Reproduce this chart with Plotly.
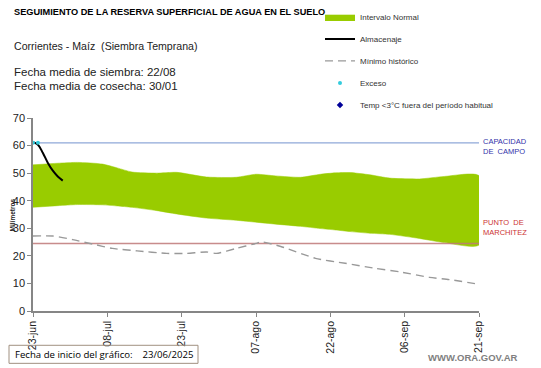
import plotly.graph_objects as go

# ---------------- data ----------------
band_days = [0, 5, 9, 14, 17, 20, 25, 29, 35, 41, 45, 49, 54, 58, 61, 64, 68, 72, 78, 83, 90]
band_upper = [53.0, 53.6, 53.9, 53.3, 51.9, 50.4, 50.0, 50.3, 48.6, 48.5, 49.6, 49.0, 48.5, 49.6, 50.1, 50.2, 49.4, 48.2, 47.9, 48.8, 49.1]
band_lower = [37.6, 38.2, 38.6, 38.5, 38.1, 37.6, 36.4, 35.2, 33.7, 32.9, 32.2, 31.5, 30.7, 29.9, 29.4, 28.8, 28.2, 27.8, 26.3, 24.8, 23.9]

min_days = [0, 4, 8, 12, 16, 21, 27, 31, 35, 37, 41, 45, 46, 50, 57, 63, 69, 74, 80, 84, 90]
min_hist = [27.2, 27.2, 25.9, 24.3, 22.7, 21.8, 20.9, 20.9, 21.4, 20.9, 22.7, 24.5, 25.1, 23.4, 19.1, 17.3, 15.5, 14.2, 12.2, 11.4, 9.7]

store_days = [0, 1, 2, 3, 4, 5, 6]
storage = [61.2, 60.3, 57.3, 53.7, 50.9, 48.8, 47.3]

exceso_days = [0, 1]
exceso_vals = [61.0, 61.0]

capacidad_campo = 61.0
punto_marchitez = 24.5
x_start, x_end = 0, 90

tick_days = [0, 15, 30, 45, 60, 75, 90]
tick_labels = ["23-jun", "08-jul", "23-jul", "07-ago", "22-ago", "06-sep", "21-sep"]
y_ticks = [0, 10, 20, 30, 40, 50, 60, 70]

# ---------------- layout helpers (window pixel -> paper) ----------------
OFF = 8                      # page body margin
W, H = 541, 368
PL, PT, PW, PH = 33 - OFF, 118.3 - OFF, 446, 192.5   # plot area inside figure
R = W - PL - PW
B = H - PT - PH
def px(x):
    return (x - OFF - PL) / PW
def py(y):
    return (PT + PH - (y - OFF)) / PH

FONT = "Liberation Sans, Arial, sans-serif"
GREEN = "#99CC00"

fig = go.Figure()

# Normal interval band
fig.add_trace(go.Scatter(
    x=band_days + band_days[::-1], y=band_upper + band_lower[::-1],
    fill="toself", fillcolor=GREEN, line=dict(color=GREEN, width=0.5, shape="spline", smoothing=0.6),
    mode="lines", name="Intervalo Normal", legendrank=1, legendgroup="a", hoverinfo="skip"))

# reference lines
fig.add_trace(go.Scatter(x=[x_start, x_end], y=[capacidad_campo, capacidad_campo], mode="lines",
                         line=dict(color="#8FA8D8", width=1.3), showlegend=False, hoverinfo="skip"))
fig.add_trace(go.Scatter(x=[x_start, x_end], y=[punto_marchitez, punto_marchitez], mode="lines",
                         line=dict(color="rgba(190,120,120,0.85)", width=1.5), showlegend=False, hoverinfo="skip"))

# Minimum historic
fig.add_trace(go.Scatter(x=min_days, y=min_hist, mode="lines", name="Mínimo histórico",
                         line=dict(color="#999999", width=1.4, dash="8px,5px", shape="spline", smoothing=0.6),
                         legendrank=3, legendgroup="c"))

# Storage
fig.add_trace(go.Scatter(x=store_days, y=storage, mode="lines", name="Almacenaje",
                         line=dict(color="black", width=2, shape="spline"), legendrank=2, legendgroup="b"))

# Exceso
fig.add_trace(go.Scatter(x=exceso_days, y=exceso_vals, mode="markers", name="Exceso",
                         marker=dict(color="#33CCDD", size=4), legendrank=4, legendgroup="d"))

# Temp (no data)
fig.add_trace(go.Scatter(x=[None], y=[None], mode="markers", name="Temp <3°C fuera del período habitual",
                         marker=dict(color="#000099", size=5, symbol="diamond"), legendrank=5, legendgroup="e"))

annotations = [
    dict(text="<b>SEGUIMIENTO DE LA RESERVA SUPERFICIAL DE AGUA EN EL SUELO</b>", x=px(12), y=py(13),
         xanchor="left", yanchor="middle", font=dict(size=9.2, color="black")),
    dict(text="Corrientes - Maíz  (Siembra Temprana)", x=px(12), y=py(46),
         xanchor="left", yanchor="middle", font=dict(size=10.6, color="#222222")),
    dict(text="Fecha media de siembra: 22/08", x=px(12), y=py(72),
         xanchor="left", yanchor="middle", font=dict(size=11.5, color="#222222")),
    dict(text="Fecha media de cosecha: 30/01", x=px(12), y=py(86),
         xanchor="left", yanchor="middle", font=dict(size=11.5, color="#222222")),
    dict(text="CAPACIDAD<br>DE  CAMPO", x=px(481), y=py(147), xanchor="left", yanchor="middle",
         align="left", font=dict(size=7.5, color="#3333AA")),
    dict(text="PUNTO  DE<br>MARCHITEZ", x=px(481), y=py(228), xanchor="left", yanchor="middle",
         align="left", font=dict(size=7.5, color="#CC3333")),
    dict(text="<b>Milímetros</b>", x=px(8), y=py(215), textangle=-90, xanchor="left", yanchor="middle",
         font=dict(size=6.5, color="#222222"), borderpad=0),
    dict(text="Fecha de inicio del gráfico:&nbsp;&nbsp;&nbsp;&nbsp;23/06/2025", x=px(104), y=py(354),
         xanchor="center", yanchor="middle", font=dict(size=9.6, color="black", family="Open Sans, sans-serif")),
    dict(text="<b>WWW.ORA.GOV.AR</b>", x=px(473), y=py(357), xanchor="center", yanchor="middle",
         font=dict(size=9.5, color="#808080")),
]
for a in annotations:
    a.update(xref="paper", yref="paper", showarrow=False)

shapes = [dict(type="rect", xref="paper", yref="paper", x0=px(9), x1=px(198), y0=py(345), y1=py(363),
               line=dict(color="#A09080", width=1), fillcolor="rgba(0,0,0,0)")]

fig.update_layout(
    width=W, height=H, margin=dict(l=PL, r=R, t=PT, b=B, autoexpand=False),
    paper_bgcolor="white", plot_bgcolor="white",
    font=dict(family=FONT, color="#222222"),
    annotations=annotations, shapes=shapes,
    showlegend=True,
    legend=dict(x=px(320), y=py(3), xanchor="left", yanchor="top", bgcolor="rgba(0,0,0,0)",
                font=dict(size=8, color="#333333"), tracegroupgap=3, itemwidth=30),
    xaxis=dict(range=[x_start, x_end], tickvals=tick_days, ticktext=tick_labels, tickangle=-90,
               showgrid=False, zeroline=False, showline=True, linecolor="#868686", linewidth=1.5,
               ticks="outside", ticklen=4, tickcolor="#868686", tickfont=dict(size=10.5, color="#222222")),
    yaxis=dict(range=[0, 70], tickvals=y_ticks, showgrid=False, zeroline=False, showline=True,
               linecolor="#868686", linewidth=1.5, ticks="outside", ticklen=4, tickcolor="#868686",
               tickfont=dict(size=11, color="#222222")),
)

fig.write_html("out.html")
